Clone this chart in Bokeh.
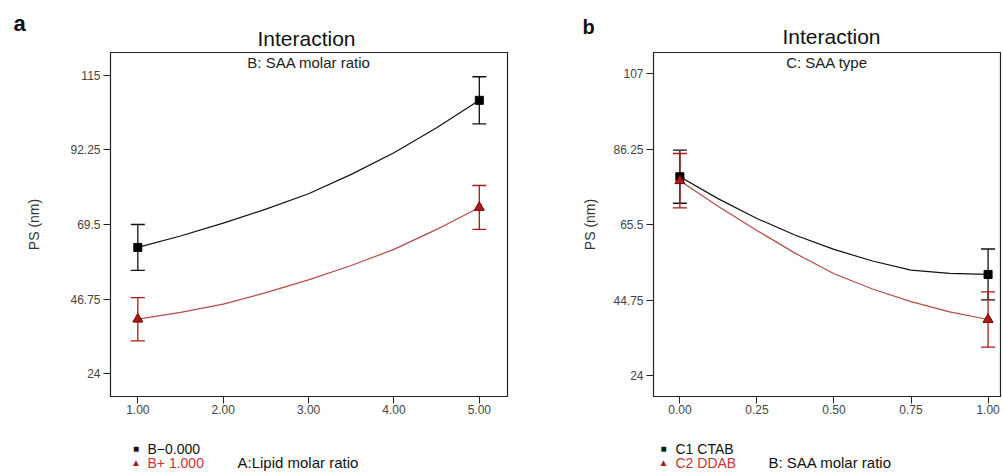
from bokeh.plotting import figure
from bokeh.layouts import row, column
from bokeh.models import Range1d, FixedTicker, Label
from bokeh.core.properties import value
from bokeh.embed import file_html
from bokeh.resources import INLINE

FONT = "Liberation Sans"

# ---------------- Panel a data ----------------
a_pts_x = [1, 5]
a_black_mean = [62.5, 107.4]
a_black_err = [7.0, 7.2]
a_red_mean = [40.6, 74.7]
a_red_err = [6.6, 6.7]
a_curve_x = [1, 1.5, 2, 2.5, 3, 3.5, 4, 4.5, 5]
a_black_curve = [62.5, 66.0, 69.9, 74.2, 78.9, 84.8, 91.4, 99.0, 107.4]
a_red_curve = [40.6, 42.7, 45.2, 48.7, 52.6, 57.0, 61.9, 68.0, 74.7]
a_xticks = [1, 2, 3, 4, 5]
a_xtick_labels = ["1.00", "2.00", "3.00", "4.00", "5.00"]
a_yticks = [24, 46.75, 69.5, 92.25, 115]
a_ytick_labels = ["24", "46.75", "69.5", "92.25", "115"]
a_legend = ["B\u22120.000", "B+ 1.000"]
a_subtitle = "B: SAA molar ratio"
a_xlabel = "A:Lipid molar ratio"

# ---------------- Panel b data ----------------
b_pts_x = [0, 1]
b_black_mean = [78.7, 51.8]
b_black_err = [7.3, 7.0]
b_red_mean = [77.6, 39.4]
b_red_err = [7.5, 7.6]
b_curve_x = [0, 0.125, 0.25, 0.375, 0.5, 0.625, 0.75, 0.875, 1]
b_black_curve = [78.7, 72.6, 67.2, 62.6, 58.7, 55.5, 53.0, 52.1, 51.8]
b_red_curve = [77.6, 70.5, 63.9, 57.6, 52.0, 47.8, 44.3, 41.5, 39.4]
b_xticks = [0, 0.25, 0.5, 0.75, 1]
b_xtick_labels = ["0.00", "0.25", "0.50", "0.75", "1.00"]
b_yticks = [24, 44.75, 65.5, 86.25, 107]
b_ytick_labels = ["24", "44.75", "65.5", "86.25", "107"]
b_legend = ["C1 CTAB", "C2 DDAB"]
b_subtitle = "C: SAA type"
b_xlabel = "B: SAA molar ratio"

BLACK = "#111111"
RED_LINE = "#b84a4a"
RED_MARK = "#b01818"
RED_TEXT = "#c8323a"

HEAD_H = 51
MAIN_H = 373
FOOT_H = 48


def strip(width, height):
    s = figure(width=width, height=height, x_range=Range1d(0, width), y_range=Range1d(0, height),
               output_backend="svg", toolbar_location=None, x_axis_type=None, y_axis_type=None,
               min_border=0, frame_align=False)
    s.grid.visible = False
    s.outline_line_color = None
    s.background_fill_color = "white"
    s.border_fill_color = "white"
    return s


def txt(s, x, y, t, size, color=BLACK, align="left", baseline="middle", style="normal"):
    s.text(x=[x], y=[y], text=[t], text_font=value(FONT), text_font_size=value(size),
           text_color=color, text_align=align, text_baseline=baseline, text_font_style=style)


def make_panel(letter, subtitle, xlabel, legend, xr, yr, xticks, xlabels,
               yticks, ylabels, pts_x, bm, be, rm, re, cx, bc, rc,
               width, bl, br, ylab_standoff, head_pos, foot_pos):
    # header strip
    h = strip(width, HEAD_H)
    (lx, ly, lsize), (tx, ty) = head_pos
    txt(h, lx, ly, letter, lsize, style="bold")
    txt(h, tx, ty, "Interaction", "21px", align="center")

    # main plot
    p = figure(width=width, height=MAIN_H, x_range=Range1d(*xr), y_range=Range1d(*yr),
               output_backend="svg", toolbar_location=None,
               min_border_left=bl, min_border_right=br,
               min_border_top=1, min_border_bottom=28, frame_align=False)
    p.grid.visible = False
    p.background_fill_color = "white"
    p.border_fill_color = "white"
    p.outline_line_color = "#222222"
    p.outline_line_width = 1.2

    for ax in (p.xaxis[0], p.yaxis[0]):
        ax.axis_line_color = "#222222"
        ax.major_tick_line_color = "#222222"
        ax.major_tick_out = 7
        ax.major_tick_in = 0
        ax.minor_tick_line_color = None
        ax.major_label_text_font = FONT
        ax.major_label_text_font_size = "12px"
        ax.major_label_text_color = "#444444"
    p.xaxis.major_label_standoff = 1
    p.yaxis.major_label_standoff = 3

    p.xaxis.ticker = FixedTicker(ticks=xticks)
    p.xaxis.major_label_overrides = {t: l for t, l in zip(xticks, xlabels)}
    p.yaxis.ticker = FixedTicker(ticks=yticks)
    p.yaxis.major_label_overrides = {t: l for t, l in zip(yticks, ylabels)}
    p.yaxis.axis_label = "PS (nm)"
    p.yaxis.axis_label_text_font = FONT
    p.yaxis.axis_label_text_font_style = "normal"
    p.yaxis.axis_label_text_font_size = "14px"
    p.yaxis.axis_label_text_color = "#333333"
    p.yaxis.axis_label_standoff = ylab_standoff

    p.line(cx, bc, line_color=BLACK, line_width=1.2)
    p.line(cx, rc, line_color=RED_LINE, line_width=1.2)

    for mean, err, col in ((bm, be, BLACK), (rm, re, RED_MARK)):
        lo = [m - e for m, e in zip(mean, err)]
        hi = [m + e for m, e in zip(mean, err)]
        p.segment(x0=pts_x, y0=lo, x1=pts_x, y1=hi, line_color=col, line_width=1.3)
        p.scatter(pts_x, lo, marker="dash", size=14, line_color=col, line_width=1.3)
        p.scatter(pts_x, hi, marker="dash", size=14, line_color=col, line_width=1.3)

    p.scatter(pts_x, bm, marker="square", size=8, fill_color="black", line_color="black")
    p.scatter(pts_x, rm, marker="triangle", size=10, fill_color=RED_MARK, line_color="#700000")

    p.add_layout(Label(x=(xr[0] + xr[1]) / 2, y=yr[1], y_offset=-1, text=subtitle,
                       text_font=FONT, text_font_size="15px", text_color="#222222",
                       text_align="center", text_baseline="top"))

    # footer strip (legend + x description)
    f = strip(width, FOOT_H)
    (mx, y1, y2, tx0, xlx) = foot_pos
    txt(f, mx, y1, "\u25A0", "10px", align="center")
    txt(f, tx0, y1, legend[0], "14px")
    txt(f, mx, y2, "\u25B2", "10px", color=RED_MARK, align="center")
    txt(f, tx0, y2, legend[1], "14px", color=RED_TEXT)
    txt(f, xlx, y2, xlabel, "15px")

    return column(h, p, f, spacing=0)


pa = make_panel("a", a_subtitle, a_xlabel, a_legend,
                (0.68, 5.33), (17.0, 122.0), a_xticks, a_xtick_labels,
                a_yticks, a_ytick_labels, a_pts_x, a_black_mean, a_black_err,
                a_red_mean, a_red_err, a_curve_x, a_black_curve, a_red_curve,
                width=560, bl=110, br=53, ylab_standoff=25,
                head_pos=((13, 28, "22px"), (306, 13)),
                foot_pos=(135.5, 24, 10, 147, 237))
pb = make_panel("b", b_subtitle, b_xlabel, b_legend,
                (-0.0856, 1.0403), (18.2, 112.9), b_xticks, b_xtick_labels,
                b_yticks, b_ytick_labels, b_pts_x, b_black_mean, b_black_err,
                b_red_mean, b_red_err, b_curve_x, b_black_curve, b_red_curve,
                width=442, bl=93, br=2, ylab_standoff=12,
                head_pos=((22, 25, "20px"), (271, 15)),
                foot_pos=(103, 24, 10, 115, 208))

layout = row(pa, pb, spacing=0)
open("out.html", "w").write(file_html(layout, INLINE))
